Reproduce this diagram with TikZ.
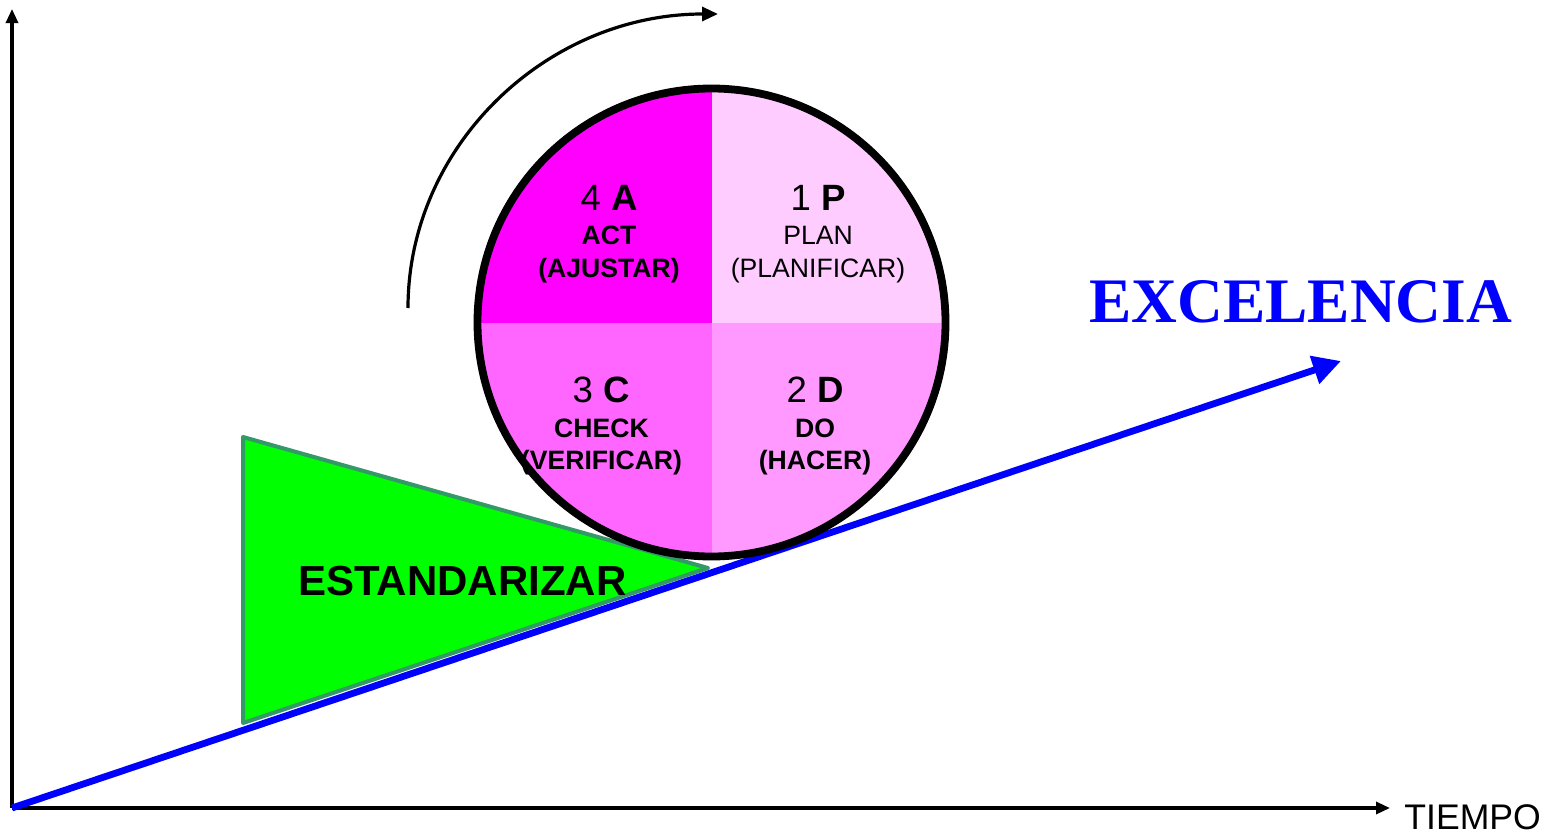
\documentclass[tikz,border=0pt]{standalone}
\usepackage{fontspec}
\setmainfont{Liberation Sans}
\newfontfamily\tnr{Liberation Serif}
\usetikzlibrary{arrows.meta}
\definecolor{qa}{HTML}{FF00FF}
\definecolor{qp}{HTML}{FFCCFF}
\definecolor{qc}{HTML}{FF66FF}
\definecolor{qd}{HTML}{FF99FF}
\definecolor{triborder}{HTML}{339966}
\definecolor{trifill}{HTML}{00FF00}
\definecolor{exblue}{HTML}{0000FF}
\tikzset{
  axisline/.style={line width=1.6pt,-{Triangle[length=7pt,width=6pt]}},
  blueline/.style={exblue,line width=3.4pt,-{Triangle[length=14pt,width=14pt]}},
  rotarc/.style={line width=1.6pt,-{Triangle[length=8pt,width=7pt]}},
  trishape/.style={fill=trifill,draw=triborder,line width=2pt,line join=round},
  big/.style={anchor=base,inner sep=0pt,font=\fontsize{18.3}{20}\selectfont},
  small/.style={anchor=base,inner sep=0pt,font=\fontsize{13.3}{15}\selectfont},
  smallb/.style={anchor=base,inner sep=0pt,font=\fontsize{13.3}{15}\selectfont\bfseries},
}
\begin{document}
\begin{tikzpicture}[x=0.5pt,y=-0.5pt]
\useasboundingbox (0,0) rectangle (1555,835);
% coordinates
\coordinate (O) at (12,808);
\coordinate (Ytop) at (12,9);
\coordinate (Xend) at (1390,808);
\coordinate (E) at (1341,361);
\coordinate (T1) at (243,437);
\coordinate (T2) at (243,723);
\coordinate (T3) at (708,568);
\coordinate (arcS) at (408,308);
% axes
\draw[axisline] (O) -- (Ytop);
\draw[axisline] (O) -- (Xend);
\node[anchor=base west,inner sep=0pt,font=\fontsize{17.8}{20}\selectfont] (tiempo) at (1404,829) {TIEMPO};
% blue arrow
\draw[blueline] (O) -- (E);
\node[anchor=base west,inner sep=0pt,text=exblue,font=\tnr\bfseries\fontsize{31.7}{36}\selectfont] (exc) at (1089,322) {EXCELENCIA};
% triangle
\draw[trishape] (T1) -- (T2) -- (T3) -- cycle;
\node[anchor=base,inner sep=0pt,font=\bfseries\fontsize{21}{24}\selectfont] (est) at (462.5,595) {ESTANDARIZAR};
% PDCA circle
\node[circle,draw,line width=3.9pt,minimum size=234pt,inner sep=0pt,
  path picture={
    \fill[qa] (path picture bounding box.center) rectangle (path picture bounding box.north west);
    \fill[qp] (path picture bounding box.center) rectangle (path picture bounding box.north east);
    \fill[qc] (path picture bounding box.center) rectangle (path picture bounding box.south west);
    \fill[qd] (path picture bounding box.center) rectangle (path picture bounding box.south east);
  }] (pdca) at (711.5,322.5) {};
% texts
\node[big] (a1) at (609,210) {4 \textbf{A}};
\node[smallb] (a2) at (609,244) {ACT};
\node[smallb] (a3) at (609,277) {(AJUSTAR)};
\node[big] (p1) at (818,210) {1 \textbf{P}};
\node[small] (p2) at (818,244) {PLAN};
\node[small] (p3) at (818,277) {(PLANIFICAR)};
\node[big] (c1) at (601,402) {3 \textbf{C}};
\node[smallb] (c2) at (601.5,437) {CHECK};
\node[smallb] (c3) at (601.5,469) {(VERIFICAR)};
\node[big] (d1) at (815,402) {2 \textbf{D}};
\node[smallb] (d2) at (815,437) {DO};
\node[smallb] (d3) at (815,469) {(HACER)};
% rotation arc
\draw[rotarc] (arcS) arc[start angle=180,end angle=90,x radius=155pt,y radius=147pt];
\end{tikzpicture}
\end{document}
